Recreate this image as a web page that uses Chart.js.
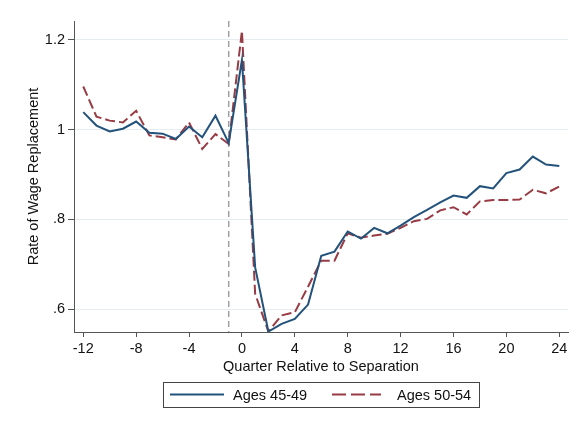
<!DOCTYPE html>
<html>
<head>
<meta charset="utf-8">
<script src="https://cdn.jsdelivr.net/npm/chart.js@4.4.1/dist/chart.umd.min.js"></script>
<style>
  html, body { margin: 0; padding: 0; background: #ffffff; }
  #wrap { width: 576px; height: 422px; }
</style>
</head>
<body>
<div id="wrap"><canvas id="c" width="576" height="422"></canvas></div>
<script>
// ---- Data ----
const quarters = [-12,-11,-10,-9,-8,-7,-6,-5,-4,-3,-2,-1,0,1,2,3,4,5,6,7,8,9,10,11,12,13,14,15,16,17,18,19,20,21,22,23,24];
const ages4549 = [1.039,1.009,0.996,1.002,1.018,0.993,0.991,0.979,1.007,0.983,1.031,0.970,1.155,0.693,0.550,0.567,0.578,0.610,0.719,0.728,0.773,0.757,0.781,0.769,0.786,0.805,0.821,0.838,0.853,0.848,0.874,0.869,0.903,0.911,0.940,0.922,0.919];
const ages5054 = [1.096,1.029,1.020,1.016,1.042,0.987,0.983,0.978,1.016,0.957,0.990,0.968,1.220,0.634,0.550,0.586,0.593,0.650,0.708,0.708,0.769,0.759,0.764,0.768,0.781,0.796,0.801,0.820,0.827,0.811,0.840,0.843,0.843,0.844,0.866,0.858,0.873];
const seriesLabels = ["Ages 45-49", "Ages 50-54"];
const xTickValues = [-12,-8,-4,0,4,8,12,16,20,24];
const yTickValues = [0.6,0.8,1.0,1.2];
const yTickLabels = [".6",".8","1","1.2"];
const separationQuarter = -1;
const xTitle = "Quarter Relative to Separation";
const yTitle = "Rate of Wage Replacement";

const FONT = "'Liberation Sans', Arial, Helvetica, sans-serif";
const BLUE = "#23527a";
const RED = "#973c44";
const AXIS = "#555555";
const GRID = "#e5edf0";
const RED_DASH = [10, 4];
const LEGEND_DASH = [14, 5];

const toPts = (arr) => quarters.map((q, i) => ({x: q, y: arr[i]}));

const sepLine = {
  id: 'sepLine',
  beforeDatasetsDraw(chart) {
    const {ctx, chartArea, scales} = chart;
    const x = scales.x.getPixelForValue(separationQuarter);
    ctx.save();
    ctx.strokeStyle = "#a0a0a0";
    ctx.lineWidth = 1.5;
    ctx.setLineDash([6, 4]);
    ctx.beginPath();
    ctx.moveTo(x, chartArea.top);
    ctx.lineTo(x, chartArea.bottom);
    ctx.stroke();
    ctx.restore();
  }
};

const boxLegend = {
  id: 'boxLegend',
  afterDraw(chart) {
    const ctx = chart.ctx;
    const ds = chart.data.datasets;
    const left = 163, top = 382, w = 316, h = 25;
    const cy = top + h / 2;
    ctx.save();
    ctx.strokeStyle = "#444444";
    ctx.lineWidth = 1;
    ctx.strokeRect(left + 0.5, top + 0.5, w, h);
    const items = [
      {x0: 170, x1: 224, tx: 233},
      {x0: 332, x1: 381, tx: 397}
    ];
    items.forEach((it, i) => {
      ctx.strokeStyle = ds[i].borderColor;
      ctx.lineWidth = 2;
      ctx.setLineDash(ds[i].borderDash ? LEGEND_DASH : []);
      ctx.beginPath();
      ctx.moveTo(it.x0, cy);
      ctx.lineTo(it.x1, cy);
      ctx.stroke();
      ctx.setLineDash([]);
      ctx.fillStyle = "#111111";
      ctx.font = "14.5px " + FONT;
      ctx.textBaseline = "middle";
      ctx.textAlign = "left";
      ctx.fillText(ds[i].label, it.tx, cy + 1);
    });
    ctx.restore();
  }
};

new Chart(document.getElementById('c'), {
  type: 'line',
  data: {
    datasets: [
      {label: seriesLabels[0], data: toPts(ages4549), borderColor: BLUE, borderWidth: 2, pointRadius: 0, tension: 0, fill: false},
      {label: seriesLabels[1], data: toPts(ages5054), borderColor: RED, borderWidth: 2, borderDash: RED_DASH, pointRadius: 0, tension: 0, fill: false}
    ]
  },
  options: {
    responsive: false,
    animation: false,
    devicePixelRatio: 1,
    layout: {padding: {left: 0, right: 8, top: 21, bottom: 0}},
    plugins: {legend: {display: false}, tooltip: {enabled: false}},
    scales: {
      x: {
        type: 'linear',
        min: -12.7,
        max: 24.66,
        afterBuildTicks: (s) => { s.ticks = xTickValues.map(v => ({value: v})); },
        afterFit: (s) => { s.height = 90; },
        ticks: {
          font: {family: FONT, size: 14.5},
          color: "#111111",
          padding: 3,
          maxRotation: 0,
          autoSkip: false,
          callback: (v) => String(v)
        },
        grid: {drawOnChartArea: false, drawTicks: true, tickLength: 5, tickColor: AXIS, tickWidth: 1},
        border: {display: true, color: AXIS, width: 1},
        title: {
          display: true,
          text: xTitle,
          font: {family: FONT, size: 14.5},
          color: "#111111",
          padding: {top: 0, bottom: 46}
        }
      },
      y: {
        type: 'linear',
        min: 0.549,
        max: 1.242,
        afterBuildTicks: (s) => { s.ticks = yTickValues.map(v => ({value: v})); },
        afterFit: (s) => { s.width = 74; },
        ticks: {
          font: {family: FONT, size: 14.5},
          color: "#111111",
          padding: 3,
          autoSkip: false,
          callback: (v) => { const i = yTickValues.findIndex(t => Math.abs(t - v) < 1e-9); return i >= 0 ? yTickLabels[i] : ''; }
        },
        grid: {color: GRID, lineWidth: 1, drawTicks: true, tickLength: 6, tickColor: AXIS, tickWidth: 1},
        border: {display: true, color: AXIS, width: 1},
        title: {
          display: true,
          text: yTitle,
          font: {family: FONT, size: 14.5},
          color: "#111111",
          padding: {top: 25, bottom: 0}
        }
      }
    }
  },
  plugins: [sepLine, boxLegend]
});
</script>
</body>
</html>
